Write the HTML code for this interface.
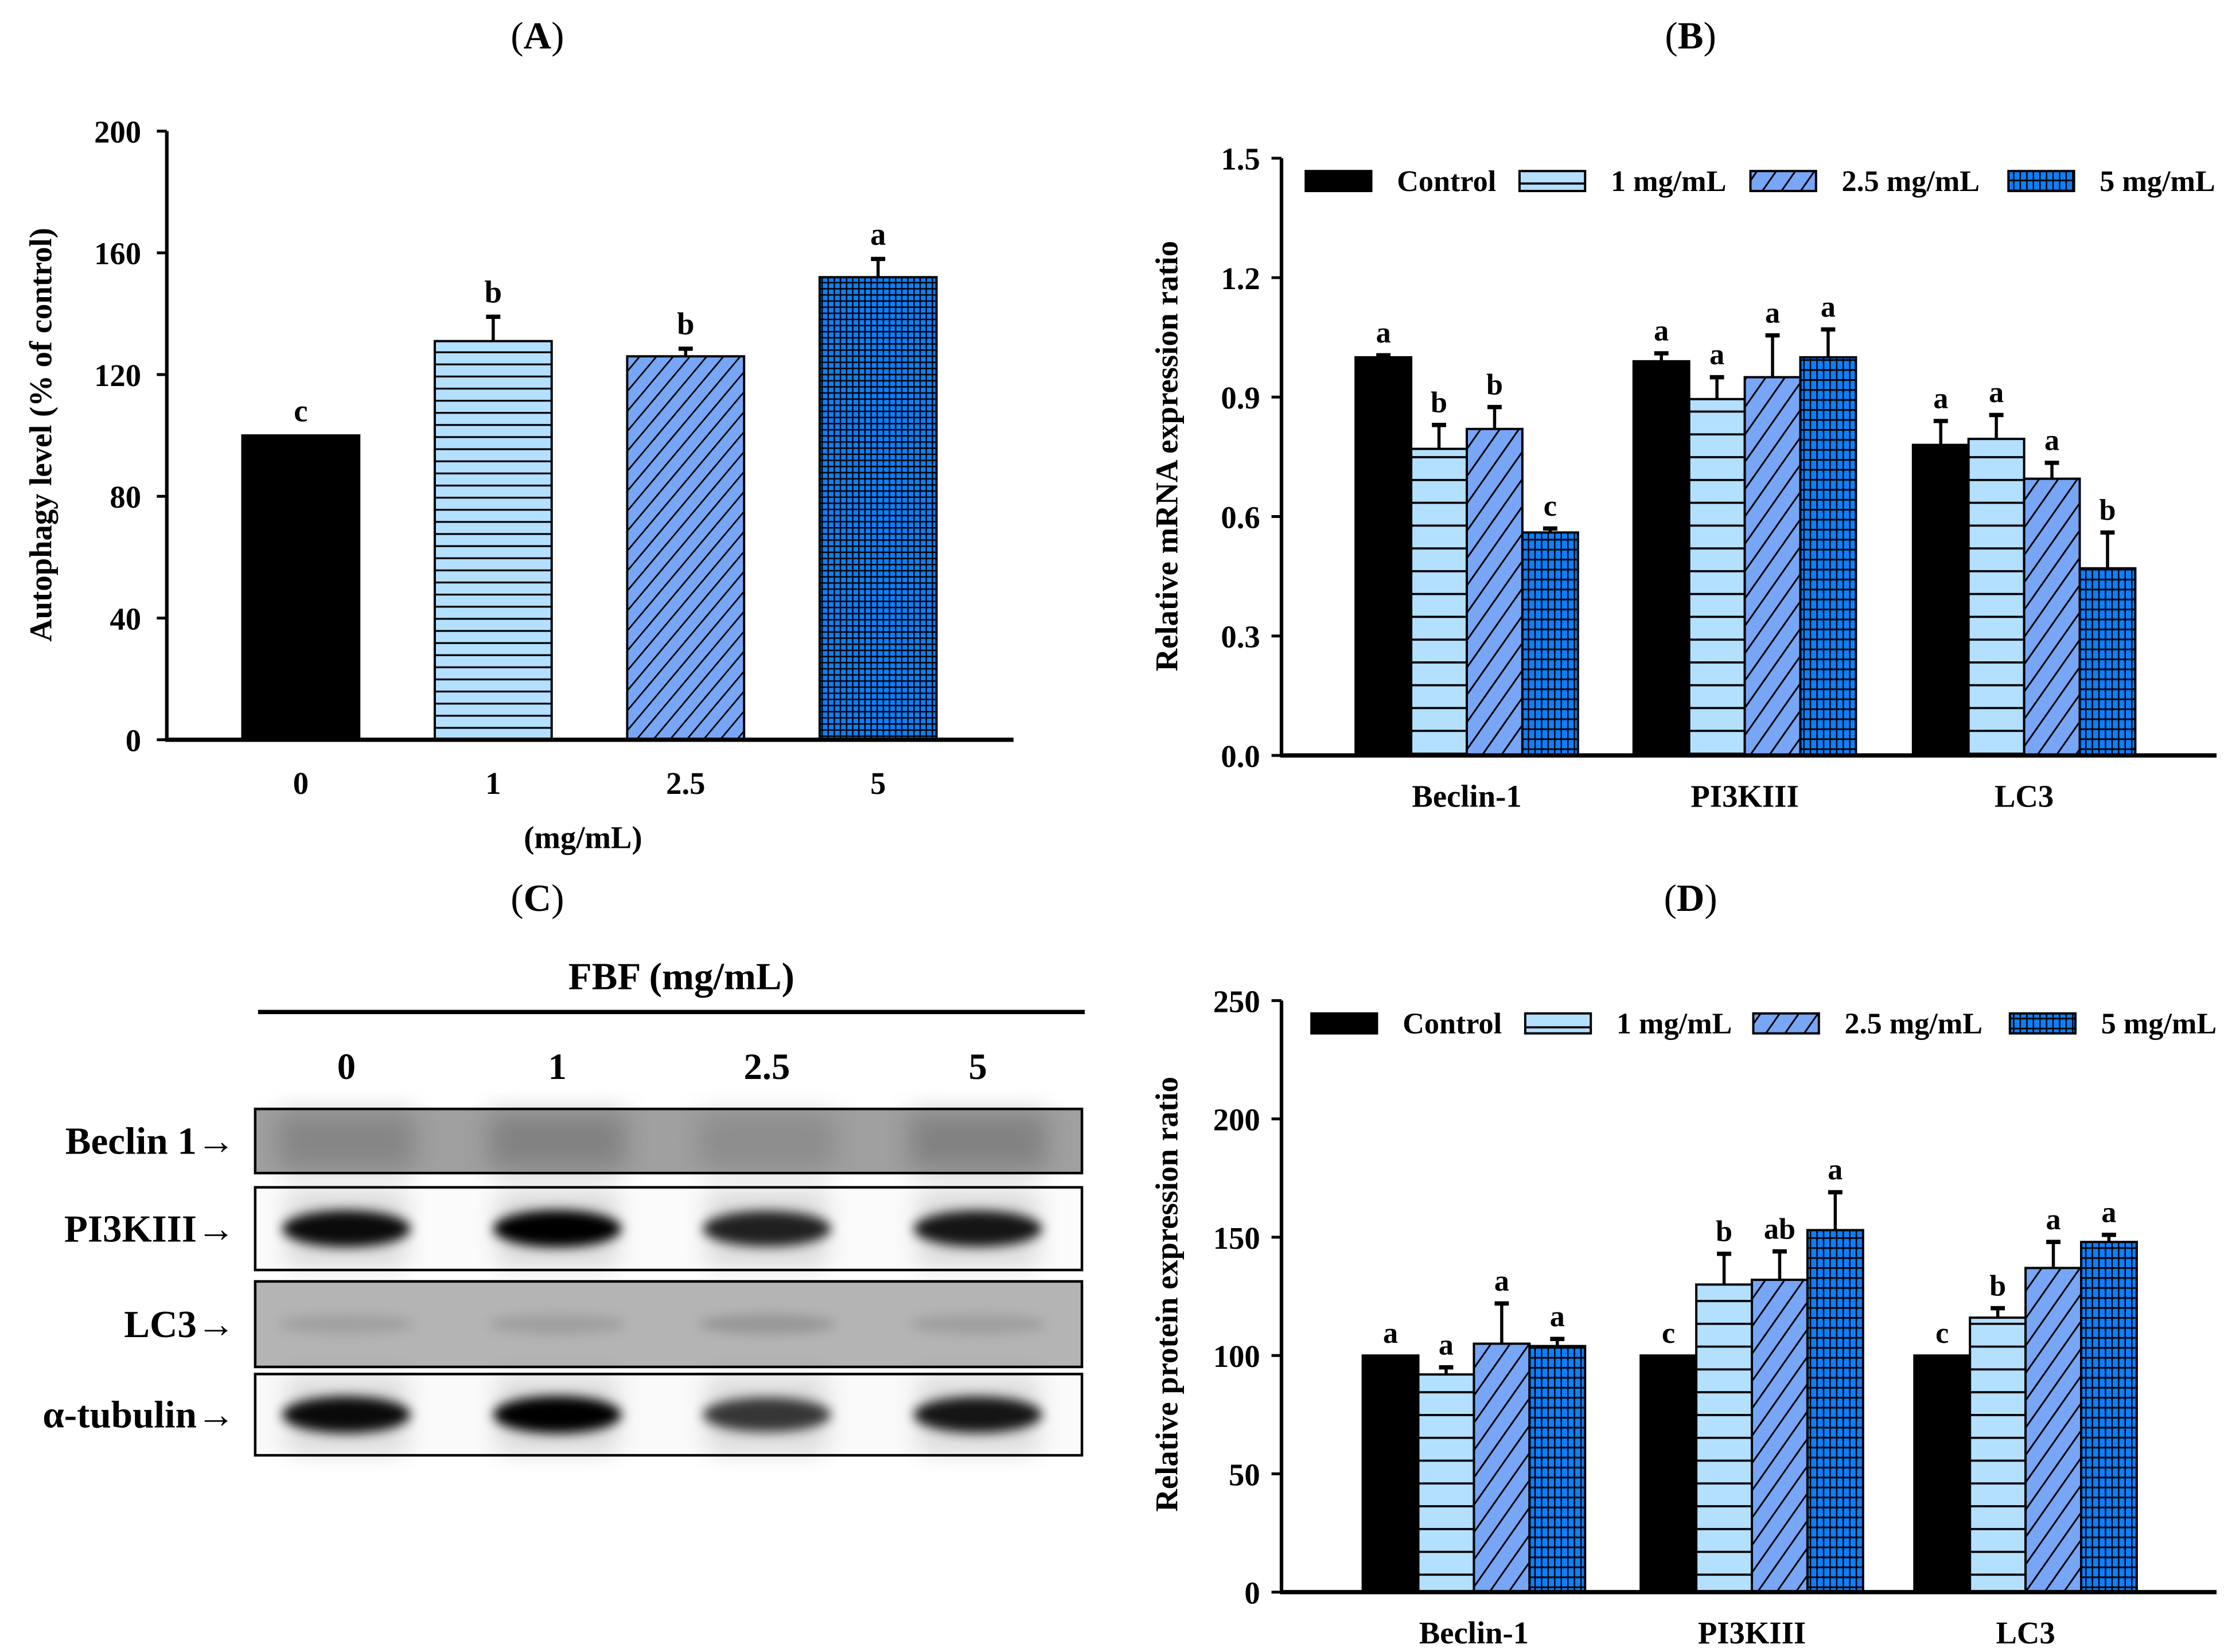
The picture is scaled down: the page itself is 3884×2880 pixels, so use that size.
<!DOCTYPE html>
<html><head><meta charset="utf-8"><style>
html,body{margin:0;padding:0;background:#fff}
svg{display:block}
text{font-family:"Liberation Serif",serif;font-weight:bold;fill:#000}
</style></head><body>
<svg id="fig" width="3884" height="2880" viewBox="0 0 1563 1159" xmlns="http://www.w3.org/2000/svg">
<defs>
<pattern id="pH" width="10" height="8.5" patternUnits="userSpaceOnUse"><rect width="10" height="8.5" fill="#b3e0ff"/><rect y="0" width="10" height="1.3" fill="#000"/></pattern>
<pattern id="pD" width="9" height="9" patternUnits="userSpaceOnUse" patternTransform="rotate(40)"><rect width="9" height="9" fill="#76a6f5"/><rect width="1.1" height="9" fill="#000"/></pattern>
<pattern id="pG" width="4.3" height="4.3" patternUnits="userSpaceOnUse"><rect width="4.3" height="4.3" fill="#000"/><rect x="1" y="1" width="3.3" height="3.3" fill="#0b80ff"/></pattern>
<pattern id="pH2" width="10" height="16" patternUnits="userSpaceOnUse"><rect width="10" height="16" fill="#b3e0ff"/><rect y="0" width="10" height="1.5" fill="#000"/></pattern>
<pattern id="pD2" width="11" height="11" patternUnits="userSpaceOnUse" patternTransform="rotate(35)"><rect width="11" height="11" fill="#76a6f5"/><rect width="1.2" height="11" fill="#000"/></pattern>
<pattern id="pG2" width="4.6" height="7" patternUnits="userSpaceOnUse"><rect width="4.6" height="7" fill="#000"/><rect x="1" y="1.2" width="3.6" height="5.8" fill="#0b80ff"/></pattern>
<filter id="blur" x="-20%" y="-50%" width="140%" height="200%"><feGaussianBlur stdDeviation="4"/></filter>
<filter id="blur2" x="-20%" y="-50%" width="140%" height="200%"><feGaussianBlur stdDeviation="9"/></filter>
</defs>
<g id="root"></g>
</svg>
<script>
// Panel A data
const aCats = ["0","1","2.5","5"];
const aVals = [100,131,126,152];
const aErr = [0,8,2.5,6];
const aLetters = ["c","b","b","a"];
const aTicks = [0,40,80,120,160,200];
// Panel B data
const bGroups = ["Beclin-1","PI3KIII","LC3"];
const bCtrl = [1.0,0.99,0.78];
const b1 = [0.77,0.895,0.795];
const b25 = [0.82,0.95,0.695];
const b5 = [0.56,1.0,0.47];
const bErrCtrl = [0.005,0.02,0.06];
const bErr1 = [0.06,0.055,0.06];
const bErr25 = [0.055,0.105,0.04];
const bErr5 = [0.01,0.07,0.09];
const bLetters = [["a","b","b","c"],["a","a","a","a"],["a","a","a","b"]];
const bTicks = ["0.0","0.3","0.6","0.9","1.2","1.5"];
// Panel D data
const dGroups = ["Beclin-1","PI3KIII","LC3"];
const dCtrl = [100,100,100];
const d1 = [92,130,116];
const d25 = [105,132,137];
const d5 = [104,153,148];
const dErrCtrl = [0,0,0];
const dErr1 = [3,13,4];
const dErr25 = [17,12,11];
const dErr5 = [3,16,3];
const dLetters = [["a","a","a","a"],["c","b","ab","a"],["c","b","a","a"]];
const dTicks = [0,50,100,150,200,250];
const legendLabels = ["Control","1 mg/mL","2.5 mg/mL","5 mg/mL"];
const blotLabels = ["Beclin 1→","PI3KIII→","LC3→","α-tubulin→"];
const laneLabels = ["0","1","2.5","5"];

const NS="http://www.w3.org/2000/svg";
const root=document.getElementById('root');
function el(tag,attrs,parent,txt){const e=document.createElementNS(NS,tag);for(const k in attrs)e.setAttribute(k,attrs[k]);if(txt!==undefined)e.textContent=txt;(parent||root).appendChild(e);return e;}
function grp(name){const g=el('g',{});


return g;}
function txt(parent,x,y,s,size,name,anchor,extra){const t=el('text',Object.assign({x:x,y:y,'font-size':size,'text-anchor':anchor||'middle'},extra||{}),parent,s);


return t;}
function title(parent,x,y,letter,name){const t=el('text',{x:x,y:y,'font-size':27,'text-anchor':'middle'},parent);


el('tspan',{style:'font-weight:normal'},t,'(');el('tspan',{},t,letter);el('tspan',{style:'font-weight:normal'},t,')');}
function errbar(g,x,yTop,yBar,cap){if(yBar-yTop<0.5)return;el('line',{x1:x,y1:yBar,x2:x,y2:yTop,stroke:'#000','stroke-width':2.2},g);el('line',{x1:x-cap,y1:yTop,x2:x+cap,y2:yTop,stroke:'#000','stroke-width':3},g);}

// ---------- Panel A ----------
(function(){
 const g=grp('panel-a');
 title(g,377,34,'A','panel-a-title');
 const x0=117,xr=711,yb=519,yt=92,max=200;
 const Y=v=>yb-(v/max)*(yb-yt);
 const X=i=>211+i*135;
 const fills=['#000','url(#pH)','url(#pD)','url(#pG)'];
 aVals.forEach((v,i)=>{
  const r=el('rect',{x:X(i)-41,y:Y(v),width:82,height:yb-Y(v),fill:fills[i],stroke:'#000','stroke-width':1.6},g);
  
  
  errbar(g,X(i),Y(v+aErr[i]),Y(v),5);
  txt(g,X(i),Y(v+aErr[i])-10,aLetters[i],22,'letter-'+aCats[i]);
  txt(g,X(i),557,aCats[i],22,'x-tick-'+aCats[i]);
 });
 el('line',{x1:x0,y1:yt,x2:x0,y2:yb+1,stroke:'#000','stroke-width':2.5},g);
 el('line',{x1:x0-1,y1:yb,x2:xr,y2:yb,stroke:'#000','stroke-width':3},g);
 aTicks.forEach(t=>{el('line',{x1:x0-7,y1:Y(t),x2:x0,y2:Y(t),stroke:'#000','stroke-width':2},g);txt(g,99,Y(t)+8,String(t),22,'y-tick-'+t,'end');});
 txt(g,409,595,'(mg/mL)',22,'x-axis-title');
 txt(g,0,0,'Autophagy level (% of control)',22,'y-axis-title','middle',{transform:'translate(36,305) rotate(-90)'});
})();

// ---------- grouped panels ----------
function grouped(cfg){
 const g=grp(cfg.name);
 title(g,1186,cfg.titleY,cfg.title,cfg.name+'-title');
 const x0=899,xr=1555,yb=cfg.yb,yt=cfg.yt,max=cfg.max;
 const Y=v=>yb-(v/max)*(yb-yt);
 const fills=['#000','url(#'+cfg.pat[0]+')','url(#'+cfg.pat[1]+')','url(#'+cfg.pat[2]+')'];
 const series=cfg.series,errs=cfg.errs;
 cfg.groups.forEach((name,gi)=>{
  const cx=cfg.centers[gi];
  for(let s=0;s<4;s++){
   const v=series[s][gi],x=cx-78+s*39;
   const r=el('rect',{x:x,y:Y(v),width:39,height:yb-Y(v),fill:fills[s],stroke:'#000','stroke-width':1.6},g);
   
   
   const e=errs[s][gi];
   errbar(g,x+19.5,Y(v+e),Y(v),5);
   txt(g,x+19.5,Y(v+e)-9,cfg.letters[gi][s],21,'letter-'+name.toLowerCase()+'-'+s);
  }
  txt(g,cx,cfg.catY,name,22,'x-label-'+name.toLowerCase());
 });
 el('line',{x1:x0,y1:yt,x2:x0,y2:yb+1,stroke:'#000','stroke-width':2.5},g);
 el('line',{x1:x0-1,y1:yb,x2:xr,y2:yb,stroke:'#000','stroke-width':3},g);
 cfg.ticks.forEach(t=>{const v=parseFloat(t);el('line',{x1:x0-7,y1:Y(v),x2:x0,y2:Y(v),stroke:'#000','stroke-width':2},g);txt(g,884,Y(v)+8,String(t),22,'y-tick-'+t,'end');});
 txt(g,0,0,cfg.ytitle,22,'y-axis-title','middle',{transform:'translate(826,'+cfg.ytY+') rotate(-90)'});
 const lg=grp('legend');g.appendChild(lg);
 const lx=cfg.legX;
 legendLabels.forEach((lab,i)=>{
  const r=el('rect',{x:lx[i],y:cfg.legY-7,width:46,height:14,fill:fills[i],stroke:'#000','stroke-width':1.6},lg);
  
  
  txt(lg,lx[i]+64,cfg.legY+7,lab,21,'legend-label-'+i,'start');
 });
}
grouped({name:'panel-b',title:'B',titleY:34,yb:530,yt:111,max:1.5,ticks:bTicks,groups:bGroups,centers:[1029,1224,1420],
 series:[bCtrl,b1,b25,b5],errs:[bErrCtrl,bErr1,bErr25,bErr5],letters:bLetters,pat:['pH2','pD2','pG2'],catY:566,
 ytitle:'Relative mRNA expression ratio',ytY:320,legX:[916,1066,1228,1409],legY:127});
grouped({name:'panel-d',title:'D',titleY:639,yb:1117,yt:702,max:250,ticks:dTicks.map(String),groups:dGroups,centers:[1034,1229,1421],
 series:[dCtrl,d1,d25,d5],errs:[dErrCtrl,dErr1,dErr25,dErr5],letters:dLetters,pat:['pH2','pD2','pG2'],catY:1153,
 ytitle:'Relative protein expression ratio',ytY:908,legX:[920,1070,1230,1410],legY:718});

// ---------- Panel C (western blot) ----------
(function(){
 const g=grp('panel-c');
 title(g,377,639,'C','panel-c-title');
 txt(g,478,694,'FBF (mg/mL)',27,'fbf-label');
 el('line',{x1:181,y1:710,x2:761,y2:710,stroke:'#000','stroke-width':3},g);
 const lanes=[243,391,538,686];
 laneLabels.forEach((l,i)=>txt(g,lanes[i],757,l,26,'lane-label-'+l));
 const boxes=[[778,823,'#a0a0a0'],[833,891,'#fbfbfb'],[899,959,'#b4b4b4'],[964,1021,'#fafafa']];
 const bands=[[0.35,0.4,0.25,0.4],[0.95,1,0.85,0.9],[0.2,0.22,0.3,0.22],[0.95,1,0.75,0.9]];
 boxes.forEach((b,bi)=>{
  const bg=grp('blot-'+bi);g.appendChild(bg);
  el('rect',{x:179,y:b[0],width:580,height:b[1]-b[0],fill:b[2]},bg);
  const cy=(b[0]+b[1])/2;
  lanes.forEach((lx,li)=>{
   const k=bands[bi][li];
   if(bi==1||bi==3){
    el('rect',{x:lx-42,y:b[0]+2,width:84,height:b[1]-b[0]-4,fill:'#000',opacity:0.13,filter:'url(#blur2)'},bg);
    el('ellipse',{cx:lx,cy:cy,rx:45,ry:9+4*k,fill:'#000',opacity:k,filter:'url(#blur)'},bg);
   }else if(bi==0){
    el('rect',{x:lx-48,y:b[0]+3,width:96,height:b[1]-b[0]-6,fill:'#555',opacity:k,filter:'url(#blur2)'},bg);
   }else{
    el('ellipse',{cx:lx,cy:cy,rx:48,ry:7,fill:'#555',opacity:k,filter:'url(#blur)'},bg);
   }
  });
  el('rect',{x:179,y:b[0],width:580,height:b[1]-b[0],fill:'none',stroke:'#000','stroke-width':1.8},bg);
  txt(bg,165,cy+9,blotLabels[bi],27,'blot-label-'+bi,'end');
 });
})();
</script>
</body></html>
